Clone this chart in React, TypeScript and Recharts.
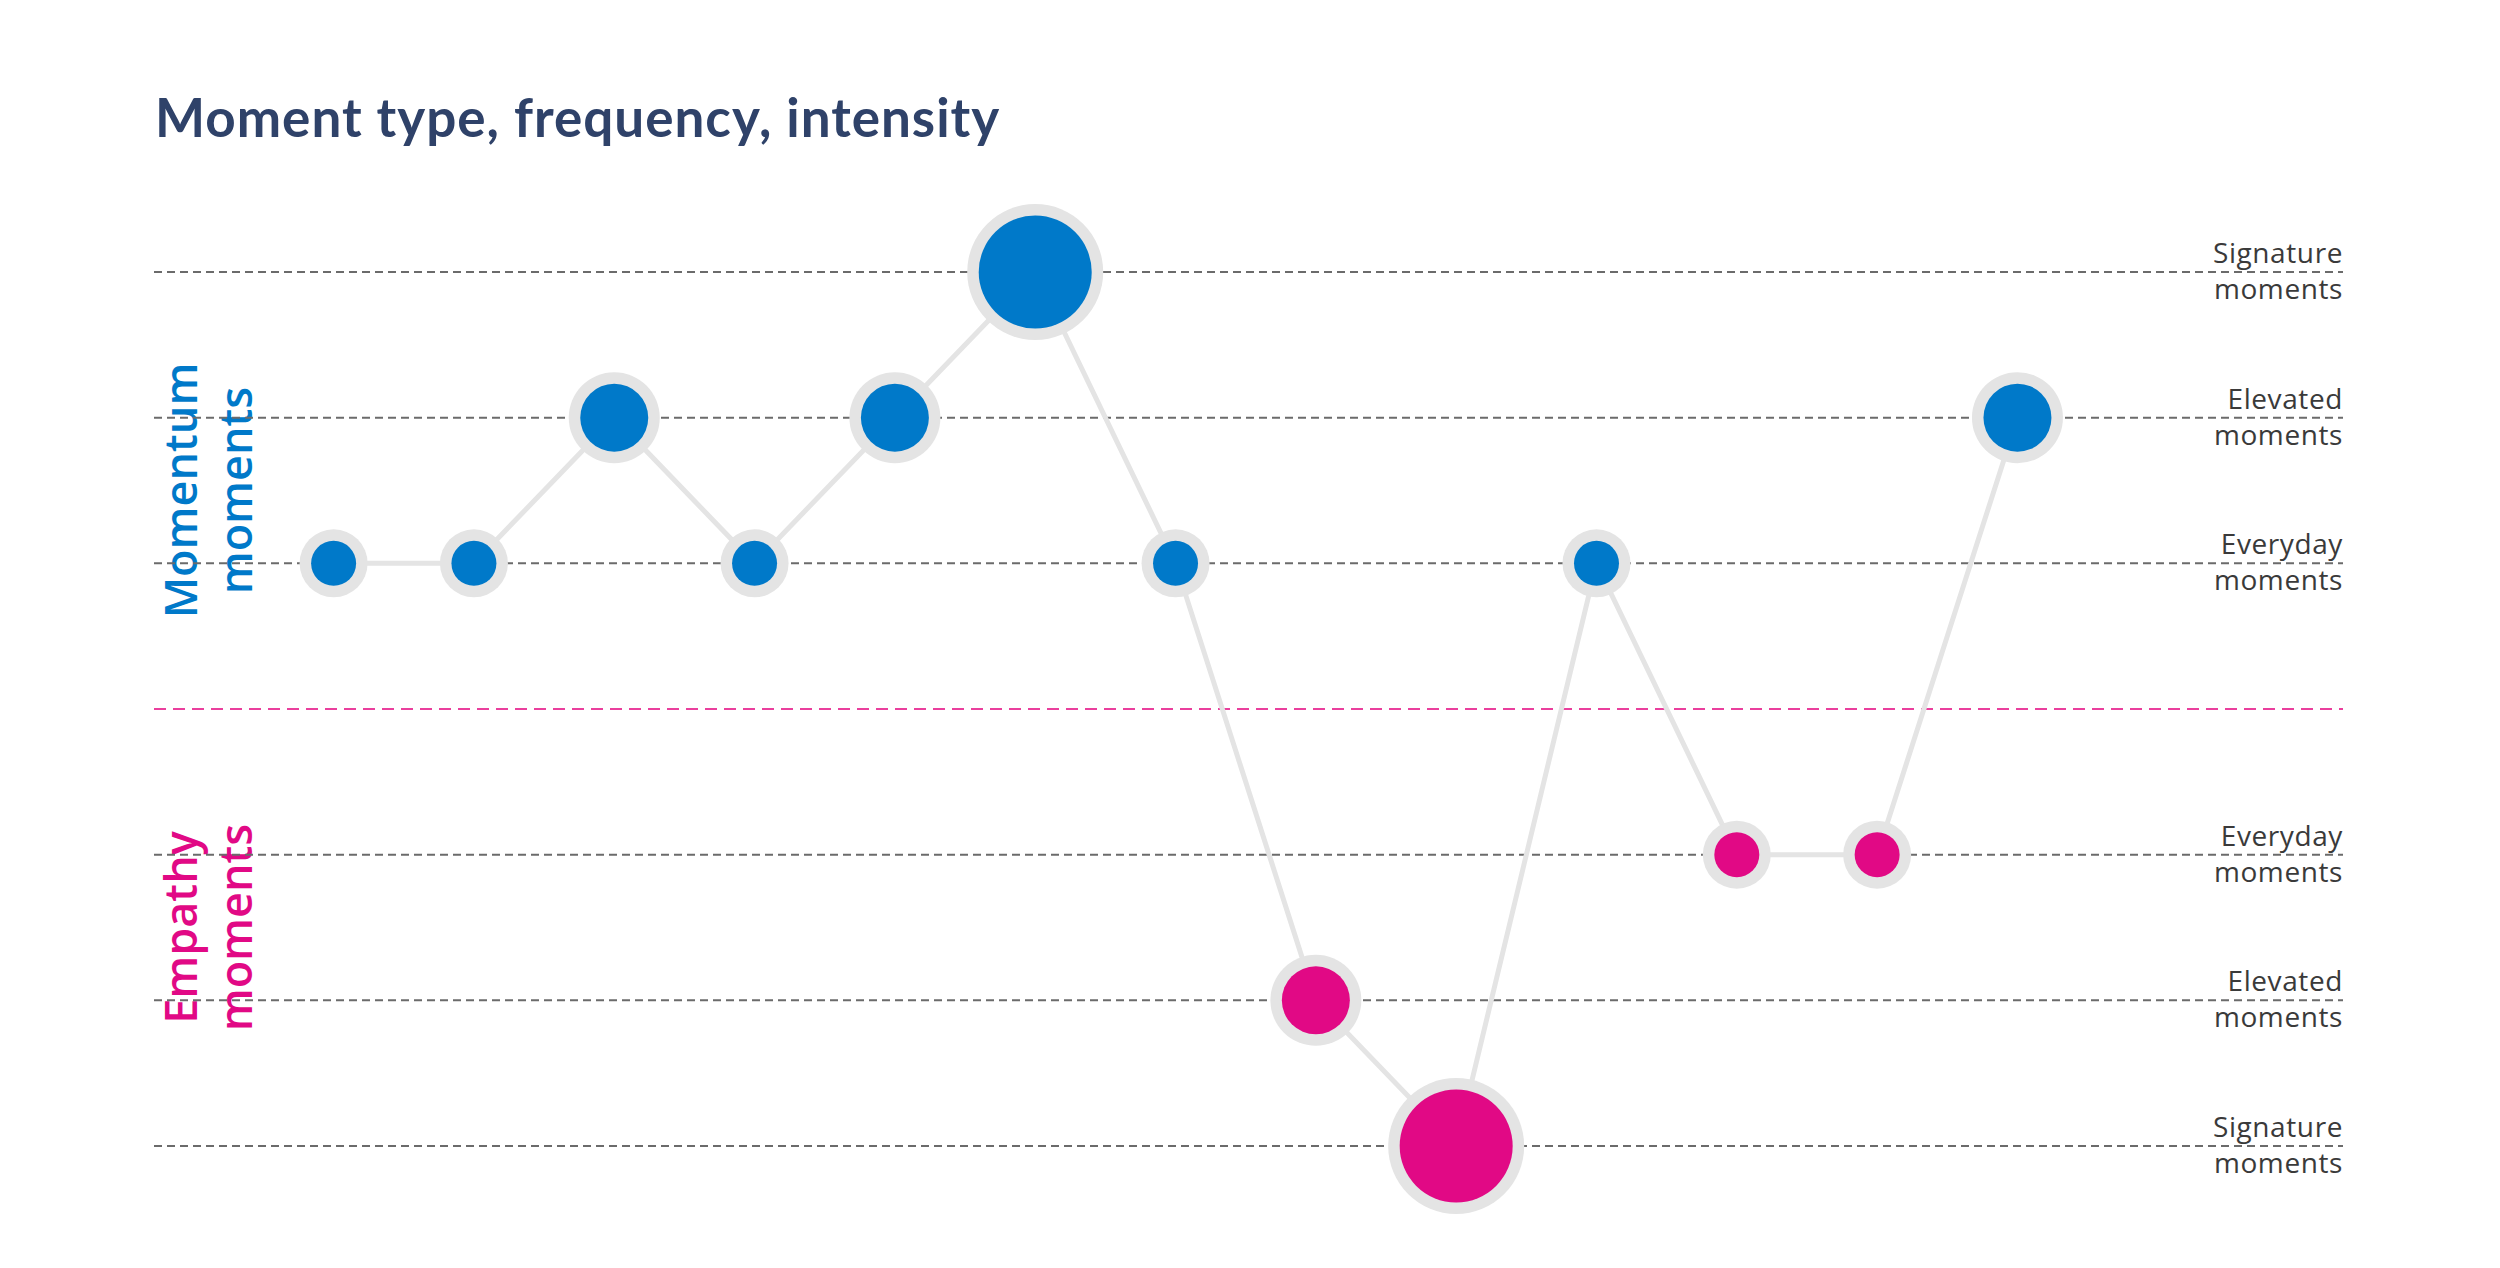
import { LineChart, Line, XAxis, YAxis, ReferenceLine, ReferenceArea } from 'recharts';

// 13 moments in sequence; level > 0 = momentum, level < 0 = empathy
// |level| 1 = everyday, 2 = elevated, 3 = signature
const moments = ['1', '2', '3', '4', '5', '6', '7', '8', '9', '10', '11', '12', '13'];
const levels = [1, 1, 2, 1, 2, 3, 1, -2, -3, 1, -1, -1, 2];

const tierValues = [3, 2, 1, -1, -2, -3];
const tierNames = ['Signature', 'Elevated', 'Everyday', 'Everyday', 'Elevated', 'Signature'];

const momentumLabel = ['Momentum', 'moments'];
const empathyLabel = ['Empathy', 'moments'];

const BLUE = '#0079c9';
const PINK = '#e10985';
const RING = '#e4e4e4';
const TEXT = '#3a3a3a';

// inner / outer radius by intensity
const radii: Record<number, [number, number]> = {
  1: [22.5, 34],
  2: [34, 45.5],
  3: [56.5, 68],
};

const data = moments.map((m, i) => ({ idx: i, name: m, level: levels[i] }));

function MomentDot(props: any) {
  const { cx, cy, payload, index } = props;
  if (cx == null || cy == null) return null;
  const [inner, outer] = radii[Math.abs(payload.level)];
  return (
    <g key={`dot-${index}`}>
      <circle cx={cx} cy={cy} r={outer} fill={RING} />
      <circle cx={cx} cy={cy} r={inner} fill={payload.level > 0 ? BLUE : PINK} />
    </g>
  );
}

function TierLabel({ viewBox, name }: any) {
  if (!viewBox) return null;
  const x = viewBox.x + viewBox.width;
  const y = viewBox.y;
  return (
    <text
      textAnchor="end"
      fill={TEXT}
      style={{ fontFamily: '"Open Sans", sans-serif', fontSize: 28, letterSpacing: 0.6 }}
    >
      <tspan x={x} y={y - 9}>{name}</tspan>
      <tspan x={x} y={y + 27}>moments</tspan>
    </text>
  );
}

function GroupLabel({ viewBox, lines, color }: any) {
  if (!viewBox) return null;
  const cy = viewBox.y + viewBox.height / 2;
  const x1 = viewBox.x + 43;
  const x2 = viewBox.x + 98;
  const style = { fontFamily: '"Open Sans", sans-serif', fontSize: 45, fontWeight: 600 };
  return (
    <g>
      <text x={x1} y={cy} transform={`rotate(-90, ${x1}, ${cy})`} textAnchor="middle" fill={color} style={style}>
        {lines[0]}
      </text>
      <text x={x2} y={cy} transform={`rotate(-90, ${x2}, ${cy})`} textAnchor="middle" fill={color} style={style}>
        {lines[1]}
      </text>
    </g>
  );
}

export default function App() {
  return (
    <div style={{ position: 'absolute', left: 0, top: 0, width: 2500, height: 1268, background: '#fff' }}>
      <div
        style={{
          position: 'absolute',
          left: 155,
          top: 90,
          fontFamily: 'Lato, sans-serif',
          fontWeight: 700,
          fontSize: 53,
          letterSpacing: 1,
          lineHeight: 1,
          color: '#2f4269',
          whiteSpace: 'nowrap',
        }}
      >
        Moment type, frequency, intensity
      </div>
      <LineChart
        width={2500}
        height={1268}
        data={data}
        margin={{ top: 272, right: 157, bottom: 122, left: 154 }}
        style={{ position: 'absolute', left: 0, top: 0 }}
      >
        <XAxis dataKey="idx" type="number" domain={[-1.28, 14.32]} hide />
        <YAxis type="number" domain={[-3, 3]} hide />
        <ReferenceArea
          y1={0}
          y2={3}
          fillOpacity={0}
          strokeOpacity={0}
          label={<GroupLabel lines={momentumLabel} color={BLUE} />}
        />
        <ReferenceArea
          y1={-3}
          y2={0}
          fillOpacity={0}
          strokeOpacity={0}
          label={<GroupLabel lines={empathyLabel} color={PINK} />}
        />
        {tierValues.map((v, i) => (
          <ReferenceLine
            key={`tier-${i}`}
            y={v}
            stroke="#6b6b6b"
            strokeWidth={2}
            strokeDasharray="8 5"
            label={<TierLabel name={tierNames[i]} />}
          />
        ))}
        <ReferenceLine y={0} stroke="#ea3f9d" strokeWidth={2} strokeDasharray="12 7" />
        <Line
          type="linear"
          dataKey="level"
          stroke={RING}
          strokeWidth={5}
          dot={MomentDot}
          activeDot={false}
          isAnimationActive={false}
        />
      </LineChart>
    </div>
  );
}
